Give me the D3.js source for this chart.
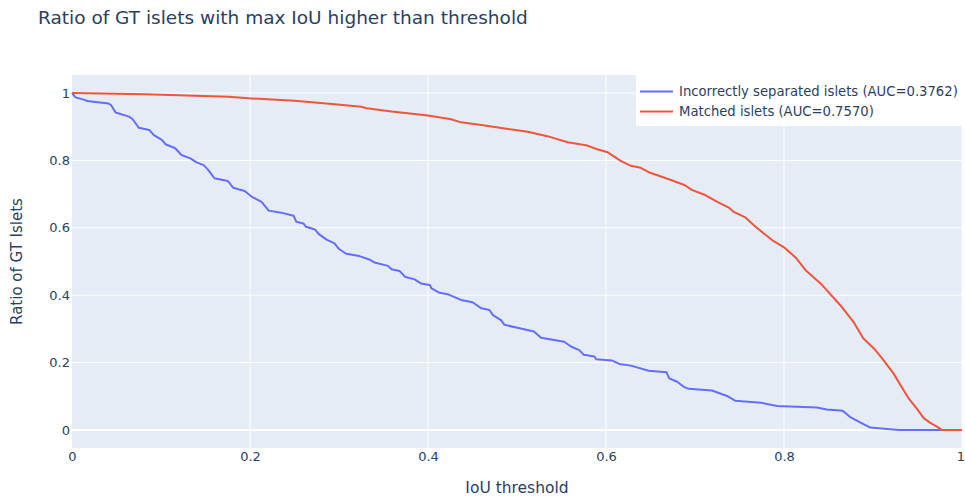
<!DOCTYPE html>
<html>
<meta charset="utf-8">
<style>
    body { margin: 0; background: #fff; }
    svg { display: block; font-family: "DejaVu Sans", Verdana, sans-serif; }
</style>
<body>
<svg width="965" height="498"></svg>
<script src="https://d3js.org/d3.v7.min.js"></script>
<script>

    // IoU threshold vs ratio of GT islets
    let incorrectX = [0, 0.004, 0.015, 0.017, 0.041, 0.044, 0.049, 0.064, 0.068, 0.075, 0.087, 0.092, 0.101, 0.105, 0.116,
        0.123, 0.133, 0.140, 0.148, 0.153, 0.160, 0.175, 0.181, 0.194, 0.202, 0.213, 0.221, 0.235, 0.249, 0.252, 0.260,
        0.263, 0.273, 0.277, 0.286, 0.295, 0.300, 0.308, 0.323, 0.334, 0.340, 0.355, 0.359, 0.368, 0.374, 0.385, 0.392,
        0.402, 0.404, 0.413, 0.422, 0.437, 0.450, 0.460, 0.469, 0.473, 0.482, 0.486, 0.519, 0.527, 0.553, 0.561, 0.570,
        0.575, 0.587, 0.589, 0.607, 0.615, 0.628, 0.648, 0.668, 0.671, 0.680, 0.688, 0.693, 0.719, 0.736, 0.745, 0.774,
        0.792, 0.837, 0.848, 0.866, 0.874, 0.886, 0.897, 0.919, 0.930, 1];
    let incorrectY = [1, 0.987, 0.979, 0.976, 0.969, 0.964, 0.942, 0.930, 0.923, 0.897, 0.890, 0.875, 0.861, 0.848, 0.836,
        0.816, 0.806, 0.794, 0.786, 0.772, 0.747, 0.739, 0.719, 0.709, 0.692, 0.677, 0.651, 0.645, 0.636, 0.618, 0.613,
        0.603, 0.595, 0.582, 0.565, 0.554, 0.537, 0.523, 0.516, 0.506, 0.497, 0.487, 0.477, 0.472, 0.455, 0.447, 0.435,
        0.430, 0.420, 0.407, 0.403, 0.386, 0.379, 0.361, 0.356, 0.341, 0.326, 0.312, 0.292, 0.274, 0.262, 0.247, 0.237,
        0.223, 0.218, 0.210, 0.206, 0.196, 0.191, 0.176, 0.171, 0.153, 0.143, 0.127, 0.122, 0.117, 0.101, 0.087, 0.081,
        0.071, 0.067, 0.061, 0.057, 0.039, 0.022, 0.007, 0.002, 0, 0];

    let matchedX = [0, 0.082, 0.176, 0.202, 0.250, 0.295, 0.325, 0.331, 0.359, 0.400, 0.426, 0.437, 0.460, 0.490, 0.512,
        0.534, 0.557, 0.579, 0.590, 0.602, 0.617, 0.628, 0.639, 0.648, 0.673, 0.688, 0.697, 0.710, 0.725, 0.738, 0.743,
        0.757, 0.768, 0.777, 0.788, 0.800, 0.813, 0.824, 0.841, 0.848, 0.863, 0.878, 0.889, 0.901, 0.910, 0.923, 0.932,
        0.940, 0.949, 0.957, 0.964, 0.975, 0.977, 1];
    let matchedY = [1, 0.996, 0.989, 0.984, 0.977, 0.967, 0.959, 0.955, 0.945, 0.933, 0.922, 0.913, 0.905, 0.893, 0.885,
        0.872, 0.854, 0.844, 0.833, 0.824, 0.798, 0.784, 0.778, 0.765, 0.742, 0.727, 0.712, 0.699, 0.677, 0.660, 0.648,
        0.630, 0.603, 0.584, 0.561, 0.542, 0.512, 0.475, 0.435, 0.415, 0.371, 0.321, 0.272, 0.242, 0.213, 0.168, 0.128,
        0.094, 0.064, 0.035, 0.022, 0.005, 0, 0];

    let seriesNames = ["Incorrectly separated islets (AUC=0.3762)", "Matched islets (AUC=0.7570)"];
    let xTicks = [0, 0.2, 0.4, 0.6, 0.8, 1];
    let yTicks = [0, 0.2, 0.4, 0.6, 0.8, 1];

    let svg = d3.select("svg"),
        margin = {top: 75, right: 3, bottom: 50, left: 72},
        width = +svg.attr("width") - margin.left - margin.right,
        height = +svg.attr("height") - margin.top - margin.bottom,
        font = '"DejaVu Sans", Verdana, sans-serif',
        textColor = "#2a3f5f",
        colors = ["#636efa", "#EF553B"];

    let x = d3.scaleLinear().domain([0, 1]).range([0, width]);
    let y = d3.scaleLinear().domain([-0.0535, 1.0535]).range([height, 0]);

    let g = svg.append("g").attr("transform", "translate(" + margin.left + "," + margin.top + ")");

    g.append("rect")
        .attr("width", width)
        .attr("height", height)
        .attr("fill", "#E5ECF6");

    // grid
    g.append("g")
        .selectAll("line")
        .data(xTicks.slice(1))
        .enter().append("line")
        .attr("x1", function (d) { return x(d); })
        .attr("x2", function (d) { return x(d); })
        .attr("y1", 0)
        .attr("y2", height)
        .attr("stroke", "#fff")
        .attr("stroke-width", 1);

    g.append("g")
        .selectAll("line")
        .data(yTicks)
        .enter().append("line")
        .attr("x1", 0)
        .attr("x2", width)
        .attr("y1", function (d) { return y(d); })
        .attr("y2", function (d) { return y(d); })
        .attr("stroke", "#fff")
        .attr("stroke-width", function (d) { return d === 0 ? 2 : 1; });

    // axes
    let xAxis = g.append("g")
        .attr("transform", "translate(0," + height + ")")
        .call(d3.axisBottom(x).tickValues(xTicks).tickSize(0).tickPadding(4).tickFormat(d3.format("~g")));
    xAxis.select(".domain").remove();
    xAxis.selectAll("text")
        .attr("fill", textColor)
        .attr("font-size", 13)
        .attr("font-family", font)
        .attr("dx", function (d) { return d === 1 ? -1.5 : 0; }); // keep the last label inside the page

    let yAxis = g.append("g")
        .call(d3.axisLeft(y).tickValues(yTicks).tickSize(0).tickPadding(2).tickFormat(d3.format("~g")));
    yAxis.select(".domain").remove();
    yAxis.selectAll("text")
        .attr("fill", textColor)
        .attr("font-size", 13)
        .attr("font-family", font);

    // lines
    let line = d3.line()
        .x(function (d) { return x(d[0]); })
        .y(function (d) { return y(d[1]); });

    let series = [
        d3.zip(incorrectX, incorrectY),
        d3.zip(matchedX, matchedY)
    ];

    g.append("g")
        .selectAll("path")
        .data(series)
        .enter().append("path")
        .attr("d", line)
        .attr("fill", "none")
        .attr("stroke", function (d, i) { return colors[i]; })
        .attr("stroke-width", 2)
        .attr("stroke-linejoin", "round");

    // legend
    let legend = svg.append("g").attr("transform", "translate(636,75)");
    legend.append("rect")
        .attr("width", 326)
        .attr("height", 51)
        .attr("fill", "#fff");

    let items = legend.selectAll("g")
        .data(seriesNames)
        .enter().append("g")
        .attr("transform", function (d, i) { return "translate(0," + (16.5 + i * 20) + ")"; });

    items.append("line")
        .attr("x1", 4)
        .attr("x2", 37)
        .attr("stroke", function (d, i) { return colors[i]; })
        .attr("stroke-width", 2);

    items.append("text")
        .attr("x", 43)
        .attr("dy", "0.35em")
        .attr("font-size", 13.2)
        .attr("fill", textColor)
        .text(function (d) { return d; });

    // titles
    svg.append("text")
        .attr("x", 38)
        .attr("y", 24)
        .attr("font-size", 18.5)
        .attr("fill", textColor)
        .text("Ratio of GT islets with max IoU higher than threshold");

    svg.append("text")
        .attr("x", margin.left + width / 2)
        .attr("y", 493)
        .attr("text-anchor", "middle")
        .attr("font-size", 15.5)
        .attr("fill", textColor)
        .text("IoU threshold");

    svg.append("text")
        .attr("transform", "translate(22," + (margin.top + height / 2) + ") rotate(-90)")
        .attr("text-anchor", "middle")
        .attr("font-size", 15)
        .attr("fill", textColor)
        .text("Ratio of GT Islets");

</script>
</body>
</html>
